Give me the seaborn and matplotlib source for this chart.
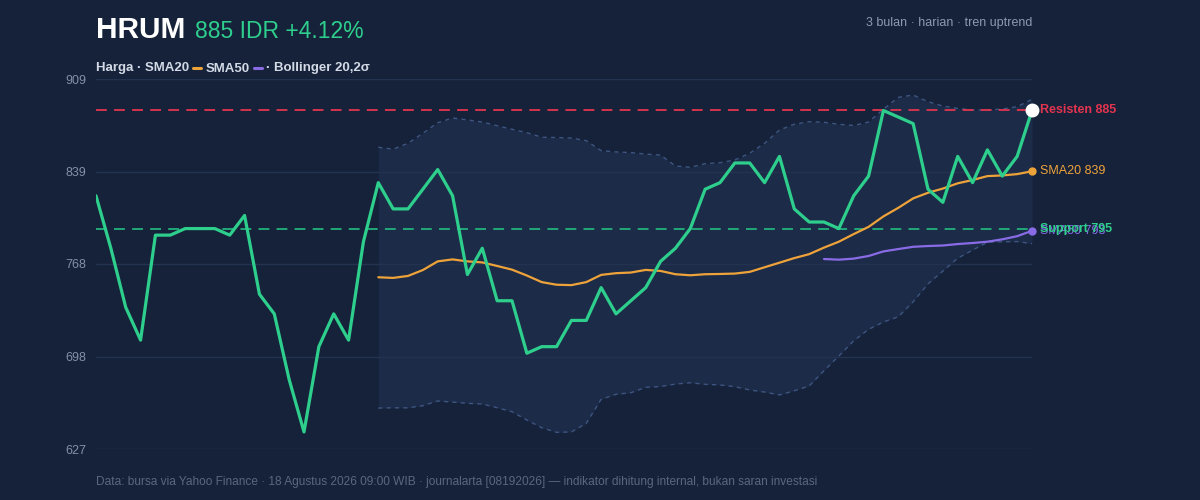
import numpy as np
import pandas as pd
import matplotlib
matplotlib.use('Agg')
import matplotlib.pyplot as plt
import seaborn as sns

# harga penutupan harian HRUM
price = [820, 780, 735, 710, 790, 790, 795, 795, 795, 790,
         805, 745, 730, 680, 640, 705, 730, 710, 785, 830,
         810, 810, 825, 840, 820, 760, 780, 740, 740, 700,
         705, 705, 725, 725, 750, 730, 740, 750, 770, 780,
         795, 825, 830, 845, 845, 830, 850, 810, 800, 800,
         795, 820, 835, 885, 880, 875, 825, 815, 850, 830,
         855, 835, 850, 885]

# indikator mulai di hari ke-19 (SMA20 / Bollinger) dan ke-49 (SMA50)
sma20 = [757.9, 757.4, 758.9, 763.4, 770.0, 771.5, 770.0, 769.2, 766.5, 763.7,
         759.2, 754.2, 752.2, 751.9, 754.2, 759.7, 761.0, 761.5, 763.5, 762.7,
         760.2, 759.4, 760.2, 760.4, 760.7, 762.0, 765.5, 769.0, 772.5, 775.5,
         780.5, 785.0, 790.8, 796.3, 804.3, 810.8, 818.0, 822.3, 825.5, 829.5,
         832.0, 835.0, 835.5, 836.5, 838.7]
bb_upper = [857.0, 855.5, 860.0, 867.6, 875.7, 879.3, 877.8, 876.2, 873.4, 870.7,
            868.1, 864.6, 864.4, 864.0, 862.0, 854.4, 853.4, 852.9, 851.8, 851.0,
            842.7, 841.7, 844.5, 845.2, 847.3, 852.4, 860.0, 870.1, 874.5, 876.5,
            876.0, 874.5, 873.6, 876.2, 886.0, 895.0, 896.8, 891.7, 888.4, 886.6,
            885.4, 885.4, 886.1, 887.9, 893.5]
bb_lower = [658.2, 658.4, 658.4, 660.0, 663.6, 662.8, 661.8, 661.3, 658.5, 655.4,
            649.1, 643.2, 639.7, 640.0, 646.6, 664.9, 668.7, 669.9, 674.0, 674.6,
            676.5, 677.5, 676.3, 675.8, 674.5, 672.0, 670.4, 668.2, 671.4, 675.0,
            686.7, 697.9, 709.5, 718.2, 723.8, 727.8, 739.2, 752.9, 762.6, 772.4,
            778.6, 784.6, 784.9, 785.1, 783.5]
sma50 = [771.8, 771.3, 772.1, 774.1, 777.6, 779.4, 781.1, 781.7, 782.1, 783.2,
         784.0, 785.0, 786.8, 789.2, 793.3]

resistance = 885
support = 795
y_ticks = [627, 697.5, 768, 838.5, 909]
y_ticklabels = ['627', '698', '768', '839', '909']

BG = '#15223a'
GREEN = '#2ecf8d'
ORANGE = '#eea33a'
PURPLE = '#8a6be6'
RED = '#e2344f'

days = np.arange(len(price))
df = pd.DataFrame({'day': days, 'price': price})
df['sma20'] = np.nan
df.loc[19:, 'sma20'] = sma20
df['upper'] = np.nan
df.loc[19:, 'upper'] = bb_upper
df['lower'] = np.nan
df.loc[19:, 'lower'] = bb_lower
df['sma50'] = np.nan
df.loc[49:, 'sma50'] = sma50

sns.set_theme(style='dark')
plt.rcParams['font.family'] = ['Liberation Sans', 'DejaVu Sans']
plt.rcParams['axes.facecolor'] = BG
plt.rcParams['figure.facecolor'] = BG

fig = plt.figure(figsize=(12, 5), dpi=100)
ax = fig.add_axes([0.08, 0.102, 0.78, 0.74])

band = df.dropna(subset=['upper'])
ax.fill_between(band.day, band.lower, band.upper, color='#1c2b48', lw=0, zorder=1)
# grid di atas area Bollinger, seperti aslinya
for yt in y_ticks:
    ax.axhline(yt, color='#23334f', lw=1, zorder=1.5)
sns.lineplot(data=band, x='day', y='upper', ax=ax, color='#3d5580', lw=1,
             linestyle=(0, (3, 3)), zorder=2)
sns.lineplot(data=band, x='day', y='lower', ax=ax, color='#3d5580', lw=1,
             linestyle=(0, (3, 3)), zorder=2)

ax.axhline(resistance, color=RED, lw=1.3, ls=(0, (6, 4)), zorder=3)
ax.axhline(support, color='#22b27c', lw=1.3, ls=(0, (6, 4)), zorder=3)

sns.lineplot(data=df, x='day', y='sma20', ax=ax, color=ORANGE, lw=1.6, zorder=4)
sns.lineplot(data=df, x='day', y='sma50', ax=ax, color=PURPLE, lw=1.6, zorder=4)
sns.lineplot(data=df, x='day', y='price', ax=ax, color=GREEN, lw=2.3, zorder=5)

last = days[-1]
ax.plot(last, df.sma20.iloc[-1], 'o', color=ORANGE, ms=5, zorder=6, clip_on=False)
ax.plot(last, df.sma50.iloc[-1], 'o', color=PURPLE, ms=5, zorder=6, clip_on=False)
ax.plot(last, df.price.iloc[-1], 'o', color='white', ms=9, zorder=7, clip_on=False)

ax.annotate(f'Resisten {resistance}', (last, resistance), xytext=(6, 0),
            textcoords='offset points', va='center', color=RED, fontsize=9,
            fontweight='bold', annotation_clip=False)
ax.annotate(f'SMA20 {df.sma20.iloc[-1]:.0f}', (last, df.sma20.iloc[-1]), xytext=(6, 0),
            textcoords='offset points', va='center', color=ORANGE, fontsize=9,
            annotation_clip=False)
ax.annotate(f'SMA50 {df.sma50.iloc[-1]:.0f}', (last, df.sma50.iloc[-1]), xytext=(6, 0),
            textcoords='offset points', va='center', color=PURPLE, fontsize=9,
            annotation_clip=False)
ax.annotate(f'Support {support}', (last, support), xytext=(6, 0),
            textcoords='offset points', va='center', color=GREEN, fontsize=9,
            fontweight='bold', annotation_clip=False)

ax.set_xlim(0, last)
ax.set_ylim(y_ticks[0], y_ticks[-1])
ax.set_yticks(y_ticks)
ax.set_yticklabels(y_ticklabels)
ax.set_xticks([])
ax.set_xlabel('')
ax.set_ylabel('')
ax.tick_params(axis='y', length=0, pad=7, labelsize=9, labelcolor='#8390a7')
ax.grid(False)
for spine in ax.spines.values():
    spine.set_visible(False)

# judul dan keterangan
renderer = fig.canvas.get_renderer()
t = fig.text(0.08, 0.925, 'HRUM', color='white', fontsize=21.5, fontweight='bold')
bb = t.get_window_extent(renderer)
fig.text((bb.x1 + 10) / 1200, 0.925, '885 IDR +4.12%', color=GREEN, fontsize=16.5)

fig.text(0.86, 0.948, '3 bulan · harian · tren uptrend', color='#8d99ae',
         fontsize=9, ha='right')

# legenda sebaris
x_px = 96
leg_y = 0.857
pieces = [('Harga · SMA20', None), ('', ORANGE), ('SMA50', None), ('', PURPLE),
          ('· Bollinger 20,2σ', None)]
for label, swatch in pieces:
    if swatch is None:
        tt = fig.text(x_px / 1200, leg_y, label, color='#d3dae6', fontsize=9.5,
                      fontweight='bold')
        x_px = tt.get_window_extent(renderer).x1 + 4
    else:
        fig.add_artist(plt.Line2D([x_px / 1200, (x_px + 8) / 1200],
                                  [0.865, 0.865], color=swatch, lw=2.2))
        x_px += 12.5

fig.text(0.08, 0.029, 'Data: bursa via Yahoo Finance · 18 Agustus 2026 09:00 WIB · '
         'journalarta [08192026] — indikator dihitung internal, bukan saran investasi',
         color='#5a6780', fontsize=8.6)

fig.savefig('out.png', dpi=100, facecolor=BG)
